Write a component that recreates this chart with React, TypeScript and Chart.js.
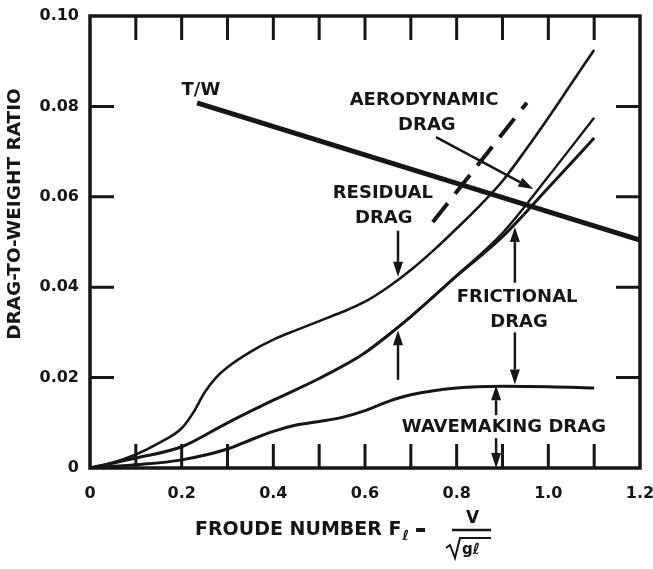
import React, { useEffect, useRef } from "react";
import { Chart, registerables } from "chart.js";

Chart.register(...registerables);

// ---- data ----
const TOTAL_X = [0, 0.05, 0.1, 0.15, 0.2, 0.225, 0.25, 0.275, 0.3, 0.35, 0.4, 0.45, 0.5, 0.55, 0.6, 0.65, 0.7, 0.75, 0.8, 0.85, 0.9, 0.95, 1.0, 1.05, 1.1];
const TOTAL_Y = [0, 0.0012, 0.003, 0.0055, 0.0088, 0.0122, 0.0167, 0.02, 0.0223, 0.0257, 0.0284, 0.0305, 0.0325, 0.0345, 0.0368, 0.04, 0.0438, 0.0482, 0.053, 0.058, 0.0635, 0.0703, 0.0775, 0.085, 0.0925];

const FRIC_X = [0, 0.1, 0.2, 0.3, 0.4, 0.5, 0.6, 0.7, 0.8, 0.9, 1.0, 1.1];
const FRIC_Y = [0, 0.0022, 0.0047, 0.01, 0.015, 0.0198, 0.0255, 0.0335, 0.0425, 0.0512, 0.062, 0.073];

const AERO_X = [0.6, 0.7, 0.8, 0.9, 1.0, 1.1];
const AERO_Y = [0.0255, 0.0335, 0.0426, 0.052, 0.0645, 0.0775];

const WAVE_X = [0, 0.1, 0.2, 0.3, 0.35, 0.4, 0.45, 0.5, 0.55, 0.6, 0.65, 0.7, 0.8, 0.9, 1.0, 1.1];
const WAVE_Y = [0, 0.0007, 0.0018, 0.0042, 0.0062, 0.0081, 0.0095, 0.0103, 0.0112, 0.0127, 0.0147, 0.0162, 0.0177, 0.0181, 0.018, 0.0177];

const TW_X = [0.2335, 1.2];
const TW_Y = [0.0808, 0.0504];

const DASH_X = [0.748, 0.953];
const DASH_Y = [0.0544, 0.0808];

const X_TICKS = [0, 0.2, 0.4, 0.6, 0.8, 1.0, 1.2];
const Y_TICKS = [0, 0.02, 0.04, 0.06, 0.08, 0.1];
const X_MINOR = [0.1, 0.2, 0.3, 0.4, 0.5, 0.6, 0.7, 0.8, 0.9, 1.0, 1.1];
const Y_MINOR = [0.02, 0.04, 0.06, 0.08];

// ---- annotations (data coordinates) ----
const LABELS = [
  { text: "T/W", x: 0.242, y: 0.0836 },
  { text: "AERODYNAMIC", x: 0.729, y: 0.0814 },
  { text: "DRAG", x: 0.735, y: 0.0759 },
  { text: "RESIDUAL", x: 0.639, y: 0.0608 },
  { text: "DRAG", x: 0.641, y: 0.0553 },
  { text: "FRICTIONAL", x: 0.932, y: 0.0378 },
  { text: "DRAG", x: 0.936, y: 0.0323 },
  { text: "WAVEMAKING DRAG", x: 0.903, y: 0.0091 },
];

const ARROWS = [
  { x1: 0.672, y1: 0.0525, x2: 0.672, y2: 0.0423 },
  { x1: 0.672, y1: 0.0195, x2: 0.672, y2: 0.0305 },
  { x1: 0.927, y1: 0.041, x2: 0.927, y2: 0.0533 },
  { x1: 0.927, y1: 0.03, x2: 0.927, y2: 0.0185 },
  { x1: 0.886, y1: 0.0117, x2: 0.886, y2: 0.0183 },
  { x1: 0.886, y1: 0.0066, x2: 0.886, y2: 0.0 },
  { x1: 0.755, y1: 0.0732, x2: 0.967, y2: 0.0617 },
];

const INK = "#161616";
const FONT = "'DejaVu Sans', sans-serif";

function pts(xs: number[], ys: number[]) {
  return xs.map((x, i) => ({ x, y: ys[i] }));
}

const decorPlugin = {
  id: "decor",
  afterDatasetsDraw(chart: any) {
    const { ctx, chartArea: a, scales } = chart;
    const xs = scales.x;
    const ys = scales.y;
    ctx.save();
    ctx.strokeStyle = INK;
    ctx.fillStyle = INK;

    // inner ticks
    ctx.lineWidth = 3;
    const TL = 24;
    X_MINOR.forEach((v) => {
      const px = xs.getPixelForValue(v);
      ctx.beginPath();
      ctx.moveTo(px, a.top);
      ctx.lineTo(px, a.top + TL);
      ctx.moveTo(px, a.bottom);
      ctx.lineTo(px, a.bottom - TL);
      ctx.stroke();
    });
    Y_MINOR.forEach((v) => {
      const py = ys.getPixelForValue(v);
      ctx.beginPath();
      ctx.moveTo(a.left, py);
      ctx.lineTo(a.left + TL, py);
      ctx.moveTo(a.right, py);
      ctx.lineTo(a.right - TL, py);
      ctx.stroke();
    });

    // frame
    ctx.lineWidth = 3.5;
    ctx.strokeRect(a.left, a.top, a.right - a.left, a.bottom - a.top);

    // arrows
    ARROWS.forEach((ar) => {
      const x1 = xs.getPixelForValue(ar.x1);
      const y1 = ys.getPixelForValue(ar.y1);
      const x2 = xs.getPixelForValue(ar.x2);
      const y2 = ys.getPixelForValue(ar.y2);
      const ang = Math.atan2(y2 - y1, x2 - x1);
      const hl = 15;
      const hw = 5;
      const bx = x2 - hl * Math.cos(ang);
      const by = y2 - hl * Math.sin(ang);
      ctx.lineWidth = 2.5;
      ctx.beginPath();
      ctx.moveTo(x1, y1);
      ctx.lineTo(bx, by);
      ctx.stroke();
      ctx.beginPath();
      ctx.moveTo(x2, y2);
      ctx.lineTo(bx + hw * Math.sin(ang), by - hw * Math.cos(ang));
      ctx.lineTo(bx - hw * Math.sin(ang), by + hw * Math.cos(ang));
      ctx.closePath();
      ctx.fill();
    });

    // labels
    ctx.font = `bold 18px ${FONT}`;
    ctx.textAlign = "center";
    ctx.textBaseline = "middle";
    LABELS.forEach((l) => {
      ctx.fillText(l.text, xs.getPixelForValue(l.x), ys.getPixelForValue(l.y));
    });

    // y title
    ctx.save();
    ctx.translate(15, (a.top + a.bottom) / 2 - 28);
    ctx.rotate(-Math.PI / 2);
    ctx.font = `bold 18.5px ${FONT}`;
    ctx.fillText("DRAG-TO-WEIGHT RATIO", 0, 0);
    ctx.restore();

    // x title
    ctx.textAlign = "left";
    ctx.font = `bold 19px ${FONT}`;
    const tx = 195;
    const ty = 530;
    const main = "FROUDE NUMBER F";
    ctx.fillText(main, tx, ty);
    let cx = tx + ctx.measureText(main).width;
    ctx.font = `bold 14px ${FONT}`;
    ctx.fillText("ℓ", cx + 1, ty + 6);
    cx += ctx.measureText("ℓ").width + 8;
    ctx.fillRect(cx, ty - 2, 9, 4);
    // fraction
    const fx1 = 452;
    const fx2 = 491;
    ctx.lineWidth = 2.5;
    ctx.beginPath();
    ctx.moveTo(fx1, ty);
    ctx.lineTo(fx2, ty);
    ctx.stroke();
    ctx.font = `bold 17px ${FONT}`;
    ctx.textAlign = "center";
    ctx.fillText("V", (fx1 + fx2) / 2 + 1, ty - 11);
    // radical
    ctx.lineWidth = 2;
    ctx.beginPath();
    ctx.moveTo(446, 548);
    ctx.lineTo(450, 545);
    ctx.lineTo(455, 558);
    ctx.lineTo(460, 538);
    ctx.lineTo(fx2, 538);
    ctx.stroke();
    ctx.textAlign = "left";
    ctx.font = `bold 15px ${FONT}`;
    ctx.fillText("gℓ", 462, 550);

    ctx.restore();
  },
};

export default function App() {
  const ref = useRef<HTMLCanvasElement | null>(null);
  useEffect(() => {
    if (!ref.current) return;
    const common = { pointRadius: 0, fill: false, borderColor: INK, cubicInterpolationMode: "monotone" };
    const chart = new Chart(ref.current, {
      type: "line",
      data: {
        datasets: [
          { ...common, label: "Total", data: pts(TOTAL_X, TOTAL_Y), borderWidth: 2.6 },
          { ...common, label: "Frictional + wavemaking", data: pts(FRIC_X, FRIC_Y), borderWidth: 3 },
          { ...common, label: "With aerodynamic", data: pts(AERO_X, AERO_Y), borderWidth: 2.4 },
          { ...common, label: "Wavemaking", data: pts(WAVE_X, WAVE_Y), borderWidth: 3 },
          { ...common, label: "T/W", data: pts(TW_X, TW_Y), borderWidth: 5, cubicInterpolationMode: "default", tension: 0 },
          { ...common, label: "Aero dashed", data: pts(DASH_X, DASH_Y), borderWidth: 4, borderDash: [24, 12], tension: 0, cubicInterpolationMode: "default" },
        ] as any,
      },
      options: {
        responsive: false,
        animation: false,
        events: [],
        layout: { padding: { left: 0, top: 16, right: 13, bottom: 0 } },
        plugins: { legend: { display: false }, tooltip: { enabled: false }, title: { display: false } },
        scales: {
          x: {
            type: "linear",
            min: 0,
            max: 1.2,
            afterBuildTicks: (s: any) => {
              s.ticks = X_TICKS.map((v) => ({ value: v }));
            },
            afterFit: (s: any) => {
              s.height = 101;
              s.paddingLeft = 0;
              s.paddingRight = 0;
            },
            grid: { display: false, drawTicks: false },
            border: { display: false },
            ticks: {
              color: INK,
              padding: 16,
              maxRotation: 0,
              autoSkip: false,
              font: { family: FONT, weight: "bold", size: 16 },
              callback: (v: any) => (v === 0 ? "0" : Number(v).toFixed(1)),
            },
          },
          y: {
            type: "linear",
            min: 0,
            max: 0.1,
            afterBuildTicks: (s: any) => {
              s.ticks = Y_TICKS.map((v) => ({ value: v }));
            },
            afterFit: (s: any) => {
              s.width = 90;
              s.paddingTop = 0;
              s.paddingBottom = 0;
            },
            grid: { display: false, drawTicks: false },
            border: { display: false },
            ticks: {
              color: INK,
              padding: 11,
              autoSkip: false,
              font: { family: FONT, weight: "bold", size: 16 },
              callback: (v: any) => (v === 0 ? "0" : Number(v).toFixed(2)),
            },
          },
        },
      } as any,
      plugins: [decorPlugin],
    });
    return () => chart.destroy();
  }, []);
  return (
    <div style={{ position: "absolute", left: 0, top: 0, width: 653, height: 569, background: "#fff" }}>
      <canvas ref={ref} width={653} height={569} style={{ width: 653, height: 569, display: "block" }} />
    </div>
  );
}
